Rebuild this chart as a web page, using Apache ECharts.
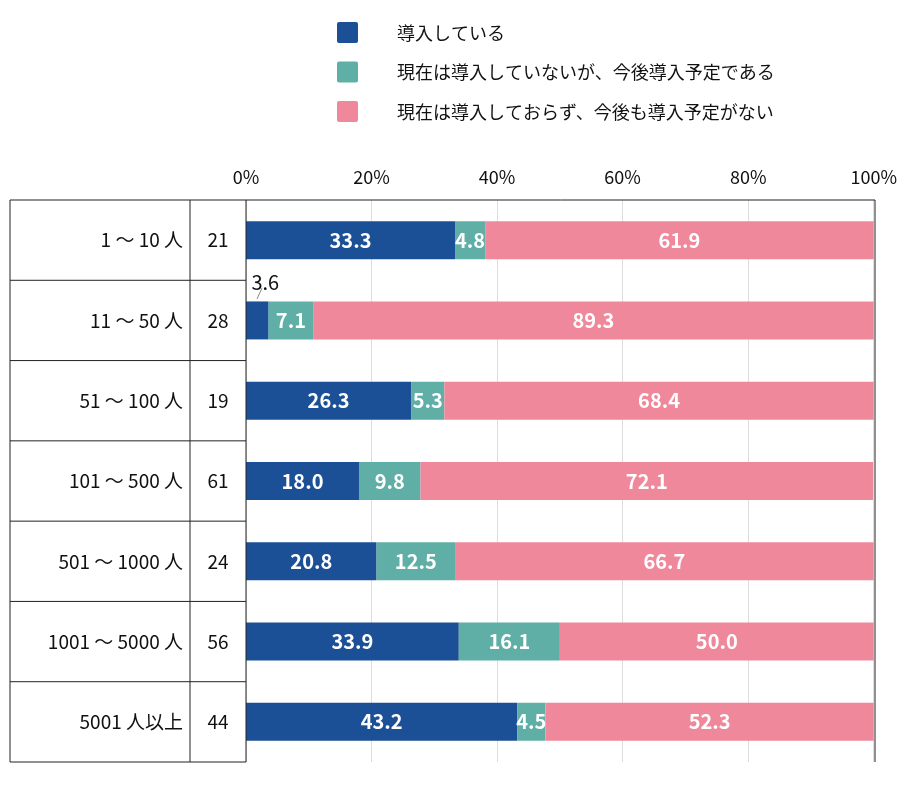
<!DOCTYPE html>
<html>
<head>
<meta charset="utf-8">
<script src="https://cdn.jsdelivr.net/npm/echarts@6/dist/echarts.min.js"></script>
<style>body{margin:0;background:#fff}#main{width:900px;height:798px}</style>
</head>
<body>
<div id="main"></div>
<script>
var categories = ['1 ～ 10 人', '11 ～ 50 人', '51 ～ 100 人', '101 ～ 500 人', '501 ～ 1000 人', '1001 ～ 5000 人', '5001 人以上'];
var counts = ['21', '28', '19', '61', '24', '56', '44'];
var seriesNames = ['導入している', '現在は導入していないが、今後導入予定である', '現在は導入しておらず、今後も導入予定がない'];
var introduced = [33.3, 3.6, 26.3, 18.0, 20.8, 33.9, 43.2];
var planned = [4.8, 7.1, 5.3, 9.8, 12.5, 16.1, 4.5];
var none = [61.9, 89.3, 68.4, 72.1, 66.7, 50.0, 52.3];
var colors = ['#1c5096', '#5fafa6', '#f0889c'];

var font = '"Noto Sans CJK JP", "Noto Sans", sans-serif';
var chart = echarts.init(document.getElementById('main'));

var L = 246, R = 875, T = 200, B = 762;
var rowH = (B - T) / categories.length;
var lines = [];
function line(x1, y1, x2, y2) {
  lines.push({type: 'line', shape: {x1: x1, y1: y1, x2: x2, y2: y2}, style: {stroke: '#222', lineWidth: 1}, z: 10});
}
for (var k = 0; k <= categories.length; k++) line(10, T + rowH * k, 246, T + rowH * k);
line(246, T, R, T);
line(10, T, 10, B); line(190, T, 190, B); line(246, T, 246, B); line(R, T, R, B);
// legend
seriesNames.forEach(function (n, i) {
  lines.push({type: 'rect', shape: {x: 337, y: 22 + i * 39.5, width: 21, height: 21, r: 2}, style: {fill: colors[i]}});
  lines.push({type: 'text', x: 397, y: 33 + i * 39.5, style: {text: n, font: '18px ' + font, fill: '#111', textVerticalAlign: 'middle'}});
});
// leader for small label
lines.push({type: 'line', shape: {x1: 262, y1: 288, x2: 257, y2: 299}, style: {stroke: '#888', lineWidth: 1}});

function mk(name, data, ci) {
  return {
    name: name, type: 'bar', stack: 'a', barWidth: 38,
    itemStyle: {color: colors[ci]},
    data: data.map(function (v, i) {
      var d = {value: v};
      if (ci === 0 && v < 5) d.label = {show: true, position: 'top', color: '#111', fontWeight: 'normal', offset: [8, -4]};
      return d;
    }),
    label: {show: true, position: 'inside', color: '#fff', fontWeight: 'bold', fontSize: 20, fontFamily: font,
      formatter: function (p) { return p.value.toFixed(1); }}
  };
}

chart.setOption({
  animation: false,
  textStyle: {fontFamily: font},
  grid: {left: L, right: 900 - R, top: T, bottom: 798 - B},
  xAxis: {type: 'value', min: 0, max: 100, interval: 20, position: 'top',
    axisLabel: {formatter: '{value}%', fontSize: 18, color: '#111', margin: 14},
    axisLine: {show: false}, axisTick: {show: false},
    splitLine: {lineStyle: {color: '#ddd'}}},
  yAxis: [
    {type: 'category', inverse: true, data: categories,
      axisLine: {show: false}, axisTick: {show: false},
      axisLabel: {fontSize: 19, color: '#111', margin: 63}},
    {type: 'category', inverse: true, data: counts, position: 'left',
      axisLine: {show: false}, axisTick: {show: false},
      axisLabel: {fontSize: 19, color: '#111', margin: 28, align: 'center'}}
  ],
  graphic: lines,
  series: [mk(seriesNames[0], introduced, 0), mk(seriesNames[1], planned, 1), mk(seriesNames[2], none, 2)]
});
</script>
</body>
</html>
